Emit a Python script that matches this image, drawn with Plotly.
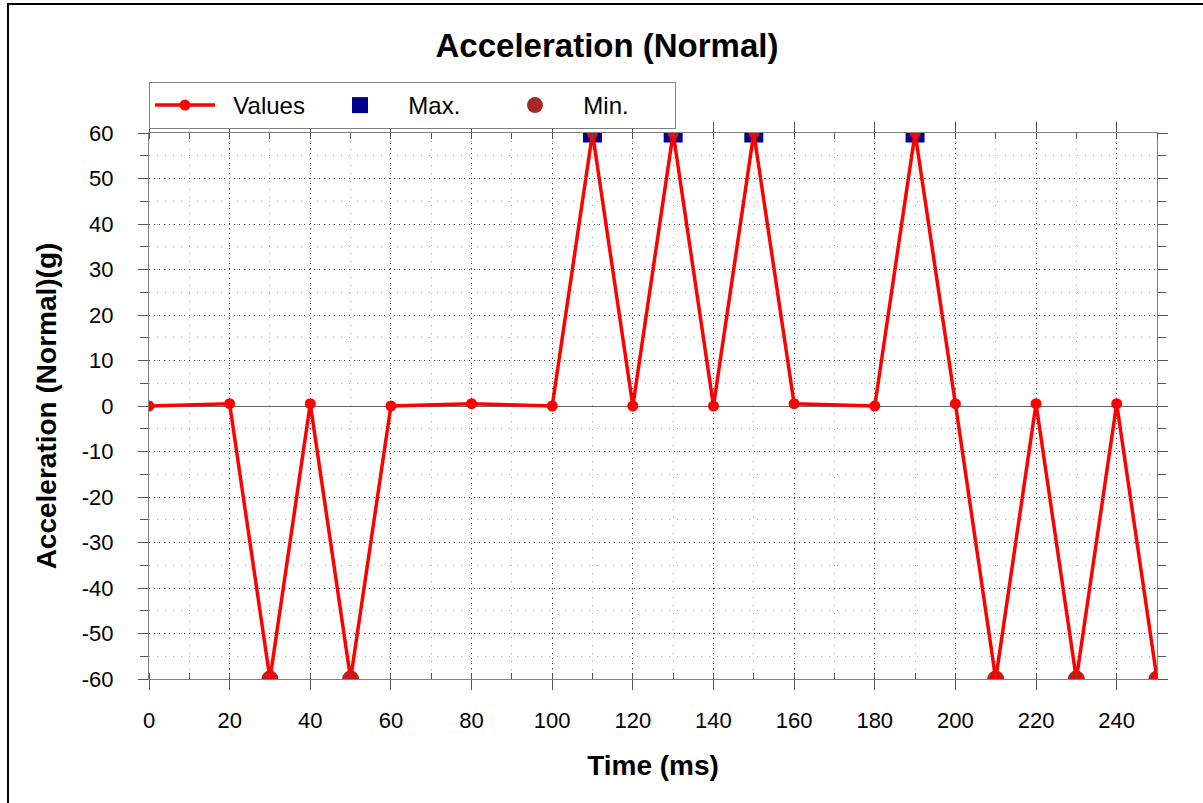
import plotly.graph_objects as go

time_ms = [0, 20, 30, 40, 50, 60, 80, 100, 110, 120, 130, 140, 150, 160, 180, 190, 200, 210, 220, 230, 240, 250]
accel_g = [0, 0.5, -60, 0.5, -60, 0, 0.5, 0, 60, 0, 60, 0, 60, 0.5, 0, 60, 0.5, -60, 0.5, -60, 0.5, -60]

max_t = [110, 130, 150, 190]
max_v = [60, 60, 60, 60]
min_t = [30, 50, 210, 230, 250]
min_v = [-60, -60, -60, -60, -60]

x_ticks = [0, 20, 40, 60, 80, 100, 120, 140, 160, 180, 200, 220, 240]
y_ticks = [60, 50, 40, 30, 20, 10, 0, -10, -20, -30, -40, -50, -60]
y_tick_text = ["60", "50", "40", "30", "20", "10", "0", "-10", "-20", "-30", "-40", "-50", "-60"]

FONT = "Arial, Liberation Sans, sans-serif"
NB = "\u00a0"

fig = go.Figure()
fig.add_trace(go.Scatter(x=max_t, y=max_v, mode="markers", name=NB * 2 + "Max.",
                         marker=dict(symbol="square", size=19, color="#00008B"),
                         legendrank=2, cliponaxis=True))
fig.add_trace(go.Scatter(x=min_t, y=min_v, mode="markers", name=NB * 2 + "Min.",
                         marker=dict(symbol="circle", size=17, color="#A52A2A"),
                         legendrank=3, cliponaxis=True))
fig.add_trace(go.Scatter(x=time_ms, y=accel_g, mode="lines+markers", name=NB * 2 + "Values",
                         line=dict(color="#FF0000", width=3.5),
                         marker=dict(symbol="circle", size=11, color="#FF0000"),
                         legendrank=1, cliponaxis=True))

fig.update_layout(
    width=1203, height=803,
    margin=dict(l=149, r=46, t=133, b=124),
    paper_bgcolor="white", plot_bgcolor="white",
    font=dict(family=FONT, size=22, color="black"),
    title=dict(text="<b>Acceleration (Normal)</b>", x=607/1203, xref="container", xanchor="center",
               y=1 - 45/803, yref="container", yanchor="middle",
               font=dict(size=33, family=FONT, color="black")),
    showlegend=True,
    legend=dict(orientation="h", x=0, xref="paper", xanchor="left",
                y=(679 - 82) / 546, yanchor="top",
                bordercolor="#808080", borderwidth=1, bgcolor="white",
                entrywidth=100, entrywidthmode="pixels", itemwidth=60,
                font=dict(size=24, family=FONT)),
    shapes=[dict(type="rect", xref="paper", yref="paper",
                 x0=(8 - 149) / 1008, x1=(1260 - 149) / 1008,
                 y0=(679 - 860) / 546, y1=(679 - 4) / 546,
                 line=dict(color="black", width=2), fillcolor="rgba(0,0,0,0)", layer="below")],
)

fig.update_xaxes(
    range=[0, 250], tickmode="array", tickvals=x_ticks,
    showline=True, linecolor="#808080", linewidth=1, mirror="ticks",
    ticks="outside", ticklen=10, tickcolor="#555555",
    ticklabelstandoff=12,
    showgrid=True, gridcolor="#444444", griddash="1px,4px", gridwidth=1,
    zeroline=False,
    minor=dict(dtick=10, ticks="inside", ticklen=6, tickcolor="#555555",
               showgrid=True, gridcolor="#AAAAAA", griddash="1px,7px"),
    title=dict(text="<b>Time (ms)</b>", font=dict(size=28, family=FONT), standoff=22),
    tickfont=dict(size=22, family=FONT),
)
fig.update_yaxes(
    range=[-60, 60], tickmode="array", tickvals=y_ticks, ticktext=y_tick_text,
    showline=True, linecolor="#808080", linewidth=1, mirror="ticks",
    ticks="outside", ticklen=10, tickcolor="#555555",
    ticklabelstandoff=20,
    showgrid=True, gridcolor="#444444", griddash="1px,4px", gridwidth=1,
    zeroline=True, zerolinecolor="#666666", zerolinewidth=1,
    minor=dict(dtick=5, ticks="outside", ticklen=8, tickcolor="#555555",
               showgrid=True, gridcolor="#AAAAAA", griddash="1px,7px"),
    title=dict(text="<b>Acceleration (Normal)(g)</b>", font=dict(size=28, family=FONT), standoff=17),
    tickfont=dict(size=22, family=FONT),
)

fig.write_html("out.html", config={"displayModeBar": False},
               post_script="document.body.style.margin='0';document.body.style.padding='0';")
